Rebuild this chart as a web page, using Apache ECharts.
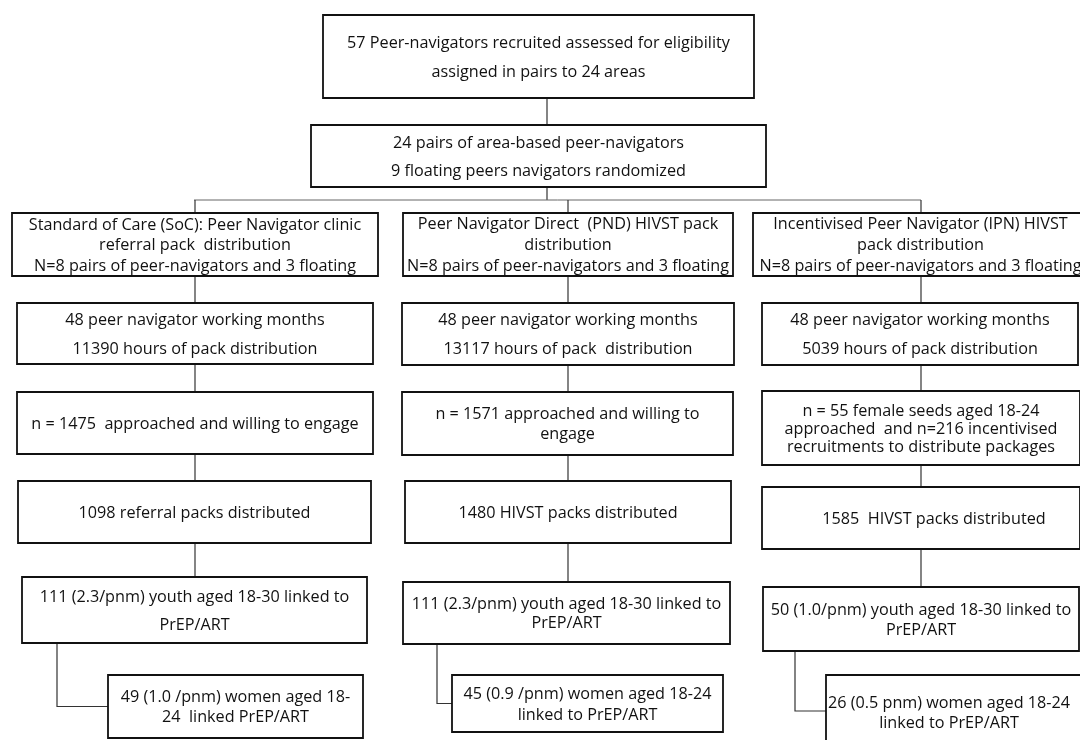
<!DOCTYPE html>
<html>
<head>
<meta charset="utf-8">
<script src="https://cdn.jsdelivr.net/npm/echarts@6/dist/echarts.min.js"></script>
<style>html,body{margin:0;padding:0;background:#fff}#c{width:1080px;height:740px}</style>
</head>
<body>
<div id="c"></div>
<script>
// ---- content ----
var stageTexts = [
  "57 Peer-navigators recruited assessed for eligibility\nassigned in pairs to 24 areas",
  "24 pairs of area-based peer-navigators\n9 floating peers navigators randomized"
];
var armTexts = [
  "Standard of Care (SoC): Peer Navigator clinic\nreferral pack  distribution\nN=8 pairs of peer-navigators and 3 floating",
  "Peer Navigator Direct  (PND) HIVST pack\ndistribution\nN=8 pairs of peer-navigators and 3 floating",
  "Incentivised Peer Navigator (IPN) HIVST\npack distribution\nN=8 pairs of peer-navigators and 3 floating"
];
var workingMonths = [48, 48, 48];
var distributionHours = [11390, 13117, 5039];
var approachTexts = [
  "n = 1475  approached and willing to engage",
  "n = 1571 approached and willing to\nengage",
  "n = 55 female seeds aged 18-24\napproached  and n=216 incentivised\nrecruitments to distribute packages"
];
var packsDistributed = [1098, 1480, 1585];
var packTexts = [
  "1098 referral packs distributed",
  "1480 HIVST packs distributed",
  "1585  HIVST packs distributed"
];
var youthTexts = [
  "111 (2.3/pnm) youth aged 18-30 linked to\nPrEP/ART",
  "111 (2.3/pnm) youth aged 18-30 linked to\nPrEP/ART",
  "50 (1.0/pnm) youth aged 18-30 linked to\nPrEP/ART"
];
var womenTexts = [
  "49 (1.0 /pnm) women aged 18-\n24  linked PrEP/ART",
  "45 (0.9 /pnm) women aged 18-24\nlinked to PrEP/ART",
  "26 (0.5 pnm) women aged 18-24\nlinked to PrEP/ART"
];

var hoursTexts = workingMonths.map(function (m, i) {
  return m + " peer navigator working months\n" + distributionHours[i] +
    (i === 1 ? " hours of pack  distribution" : " hours of pack distribution");
});

var boxTexts = [].concat(stageTexts, armTexts, hoursTexts, approachTexts, packTexts, youthTexts, womenTexts);

// ---- layout (pixel space of the 1080x740 page) ----
// [x0, y0, x1, y1, lineHeight, textDx, textDy]
var boxLayout = [
  [323, 15, 754, 98, 29, 0, 0],
  [311, 125, 766, 187, 28, 0, 0],
  [12, 213, 378, 276, 20.5, 0, 0],
  [403, 213, 733, 276, 21, 0, 0],
  [753, 213, 1088, 276, 21, 0, 0],
  [17, 303, 373, 364, 29, 0, 0],
  [402, 303, 734, 365, 29, 0, 0],
  [762, 303, 1078, 365, 29, 0, 0],
  [17, 392, 373, 454, 20, 0, 0],
  [402, 392, 733, 455, 20, 0, 0],
  [762, 391, 1080, 465, 18, 0, 0],
  [18, 481, 371, 543, 20, 0, 0],
  [405, 481, 731, 543, 20, 0, 0],
  [762, 487, 1080, 549, 20, 13, 0],
  [22, 577, 367, 643, 28, 0, 0],
  [403, 582, 730, 644, 19, 0, 0],
  [763, 587, 1079, 651, 20, 0, 0],
  [108, 675, 363, 738, 20, 0, 0],
  [452, 675, 723, 732, 21, 0, 0],
  [826, 675, 1090, 760, 20, -9, -5]
];
// vertical links: [fromBox, toBox, x]
var verticalLinks = [
  [0, 1, 547],
  [2, 5, 195], [5, 8, 195], [8, 11, 195], [11, 14, 195],
  [3, 6, 568], [6, 9, 568], [9, 12, 568], [12, 15, 568],
  [4, 7, 921], [7, 10, 921], [10, 13, 921], [13, 16, 921]
];
// elbow links: [fromBox, toBox, x]
var elbowLinks = [[14, 17, 57], [15, 18, 437], [16, 19, 795]];
// randomisation bus
var busY = 200, busSource = [1, 547], busTargets = [[2, 195], [3, 568], [4, 921]];

// build connector polylines from the layout
var connectors = [];
verticalLinks.forEach(function (l) {
  var a = boxLayout[l[0]], b = boxLayout[l[1]];
  connectors.push({pts: [[l[2], a[3]], [l[2], b[1]]], c: '#333', w: 1.2});
});
elbowLinks.forEach(function (l) {
  var a = boxLayout[l[0]], b = boxLayout[l[1]];
  var my = (b[1] + Math.min(b[3], 740)) / 2;
  if (l[1] === 19) my = 711;
  connectors.push({pts: [[l[2], a[3]], [l[2], my], [b[0], my]], c: '#333', w: 1.2});
});
connectors.push({pts: [[busSource[1], boxLayout[busSource[0]][3]], [busSource[1], busY]], c: '#333', w: 1.2});
connectors.push({pts: [[busTargets[0][1] - 1, busY], [busTargets[2][1], busY]], c: '#666', w: 1});
busTargets.forEach(function (t) {
  connectors.push({pts: [[t[1], busY], [t[1], boxLayout[t[0]][1]]], c: '#333', w: 1.2});
});

var FONT = '"Open Sans", "Noto Sans", sans-serif';

var chart = echarts.init(document.getElementById('c'), null, {renderer: 'canvas'});
chart.setOption({
  animation: false,
  backgroundColor: '#fff',
  grid: {left: 0, right: 0, top: 0, bottom: 0},
  xAxis: {type: 'value', min: 0, max: 1080, show: false},
  yAxis: {type: 'value', min: 0, max: 740, inverse: true, show: false},
  series: [
    {
      type: 'custom',
      coordinateSystem: 'cartesian2d',
      clip: false,
      data: connectors.map(function (c, i) { return [i]; }),
      encode: {x: -1, y: -1},
      renderItem: function (params, api) {
        var c = connectors[api.value(0)];
        return {
          type: 'polyline',
          shape: {points: c.pts.map(function (p) { return api.coord(p); })},
          style: {stroke: c.c, lineWidth: c.w, fill: null}
        };
      },
      z: 1
    },
    {
      type: 'custom',
      coordinateSystem: 'cartesian2d',
      clip: false,
      data: boxTexts.map(function (t, i) { return [i]; }),
      encode: {x: -1, y: -1},
      renderItem: function (params, api) {
        var i = api.value(0), L = boxLayout[i];
        var p0 = api.coord([L[0], L[1]]), p1 = api.coord([L[2], L[3]]);
        var cx = (p0[0] + p1[0]) / 2 + L[5], cy = (p0[1] + p1[1]) / 2 + L[6] + 1;
        return {
          type: 'group',
          children: [
            {
              type: 'rect',
              shape: {x: p0[0], y: p0[1], width: p1[0] - p0[0], height: p1[1] - p0[1]},
              style: {fill: '#fff', stroke: '#111', lineWidth: 1.8}
            },
            {
              type: 'text',
              style: {
                text: boxTexts[i], x: cx, y: cy,
                align: 'center', verticalAlign: 'middle',
                font: '16.2px ' + FONT, lineHeight: L[4], fill: '#111'
              }
            }
          ]
        };
      },
      z: 2
    }
  ]
});
</script>
</body>
</html>
